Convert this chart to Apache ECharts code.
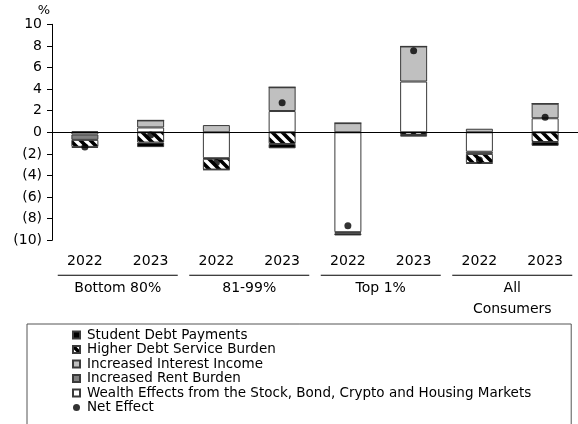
<!DOCTYPE html>
<html>
<head>
<meta charset="utf-8">
<script src="https://cdn.jsdelivr.net/npm/echarts@6/dist/echarts.min.js"></script>
<style>
  html, body { margin: 0; padding: 0; background: #fff; }
  #chart { width: 578px; height: 424px; }
</style>
</head>
<body>
<div id="chart"></div>
<script>
// Contribution to spending power, by income group and year (%)
const years = ['2022', '2023', '2022', '2023', '2022', '2023', '2022', '2023'];
const groups = ['Bottom 80%', '81-99%', 'Top 1%', 'All\nConsumers'];
const yTicks = [-10, -8, -6, -4, -2, 0, 2, 4, 6, 8, 10];

const wealthEffects = [-0.2, 0.45, -2.4, 1.97, -9.25, 4.7, -1.8, 1.3];
const interestIncome = [0.1, 0.65, 0.67, 2.2, 0.85, 3.25, 0.33, 1.35];
const rentBurden = [-0.5, 0, -0.05, 0, 0, 0, -0.2, 0];
const debtService = [-0.65, -0.95, -1.0, -1.08, -0.1, -0.25, -0.85, -0.9];
const studentDebt = [-0.1, -0.42, -0.03, -0.4, -0.2, -0.15, -0.05, -0.35];
const netEffect = [-1.35, -0.25, -2.8, 2.74, -8.65, 7.55, -2.57, 1.4];

const FONT = 'DejaVu Sans';

// Diagonal black/white hatch used for the debt service segments
function makeHatch() {
  const s = 10;
  const c = document.createElement('canvas');
  c.width = s; c.height = s;
  const g = c.getContext('2d');
  g.fillStyle = '#fff';
  g.fillRect(0, 0, s, s);
  g.strokeStyle = '#000';
  g.lineWidth = 3.6;
  g.beginPath();
  g.moveTo(-s, 0); g.lineTo(2 * s, 3 * s);
  g.moveTo(-s, -s); g.lineTo(2 * s, 2 * s);
  g.moveTo(0, -s); g.lineTo(3 * s, 2 * s);
  g.stroke();
  return c;
}
const hatch = { image: makeHatch(), repeat: 'repeat' };

const edge = '#3a3a3a';
function barSeries(name, data, color) {
  return {
    name, type: 'bar', stack: 'total', data, barWidth: 27,
    itemStyle: { color, borderColor: edge, borderWidth: 1 },
    emphasis: { disabled: true }
  };
}

const chart = echarts.init(document.getElementById('chart'), null, { renderer: 'canvas' });
chart.setOption({
  animation: false,
  textStyle: { fontFamily: FONT, color: '#000' },
  grid: { left: 52, top: 24.3, width: 528, height: 216 },
  legend: {
    orient: 'vertical', left: 27, top: 324, height: 160,
    padding: [4, 40, 30, 45],
    borderColor: '#555', borderWidth: 1,
    itemWidth: 7, itemHeight: 7, itemGap: 0.5,
    textStyle: { fontFamily: FONT, fontSize: 13.5, color: '#000', lineHeight: 13.9, padding: [0, 0, 0, 2] },
    data: [
      { name: 'Student Debt Payments', icon: 'rect' },
      { name: 'Higher Debt Service Burden', icon: 'rect' },
      { name: 'Increased Interest Income', icon: 'rect' },
      { name: 'Increased Rent Burden', icon: 'rect' },
      { name: 'Wealth Effects from the Stock, Bond, Crypto and Housing Markets', icon: 'rect' },
      { name: 'Net Effect', icon: 'circle' }
    ],
    selectedMode: false
  },
  xAxis: [
    {
      type: 'category', data: years, position: 'bottom',
      axisLine: { show: false }, axisTick: { show: false },
      axisLabel: { margin: 14, fontSize: 14, color: '#000', fontFamily: FONT, interval: 0 }
    },
    {
      type: 'category', data: groups, position: 'bottom',
      axisLine: { show: false }, axisTick: { show: false },
      axisLabel: {
        margin: 32, interval: 0, color: '#000',
        formatter: v => '{ln|}\n' + v.split('\n').map(t => '{t|' + t + '}').join('\n'),
        rich: {
          ln: { width: 120, height: 1, lineHeight: 6, backgroundColor: '#000' },
          t: { fontSize: 14, lineHeight: 21, fontFamily: FONT, color: '#000' }
        }
      }
    }
  ],
  yAxis: {
    type: 'value', min: yTicks[0], max: yTicks[yTicks.length - 1], interval: 2,
    name: '%', nameLocation: 'end', nameGap: 3,
    nameTextStyle: { fontFamily: FONT, fontSize: 13, color: '#000', align: 'right', padding: [0, 2, 0, 0] },
    axisLine: { show: true, lineStyle: { color: '#000', width: 1 } },
    axisTick: { show: true, inside: false, length: 5, lineStyle: { color: '#000' } },
    splitLine: { show: false },
    axisLabel: {
      margin: 10, fontSize: 14, color: '#000', fontFamily: FONT,
      formatter: v => v < 0 ? '(' + Math.abs(v) + ')' : String(v)
    }
  },
  series: [
    barSeries('Wealth Effects from the Stock, Bond, Crypto and Housing Markets', wealthEffects, '#ffffff'),
    barSeries('Increased Interest Income', interestIncome, '#c0c0c0'),
    barSeries('Increased Rent Burden', rentBurden, '#808080'),
    barSeries('Higher Debt Service Burden', debtService, hatch),
    barSeries('Student Debt Payments', studentDebt, '#000000'),
    {
      name: 'Net Effect', type: 'scatter', data: netEffect, z: 5,
      symbol: 'circle', symbolSize: 7,
      itemStyle: { color: '#000' },
      emphasis: { disabled: true },
      markLine: {
        silent: true, symbol: 'none', z: 4,
        label: { show: false },
        lineStyle: { color: '#000', width: 1, type: 'solid' },
        data: [{ yAxis: 0 }]
      }
    }
  ]
});
</script>
</body>
</html>
